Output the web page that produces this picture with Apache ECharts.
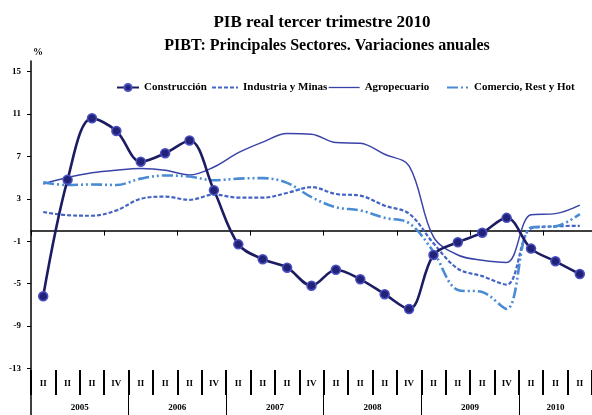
<!DOCTYPE html>
<html><head><meta charset="utf-8">
<script src="https://cdn.jsdelivr.net/npm/echarts@6/dist/echarts.min.js"></script>
<style>html,body{margin:0;padding:0;background:#fff}#c{width:592px;height:415px}</style>
</head><body><div id="c"></div>
<script>
const categories = ['2005-I','2005-II','2005-III','2005-IV','2006-I','2006-II','2006-III','2006-IV','2007-I','2007-II','2007-III','2007-IV','2008-I','2008-II','2008-III','2008-IV','2009-I','2009-II','2009-III','2009-IV','2010-I','2010-II','2010-III'];
const quarterLabels = ['II','II','II','IV','II','II','II','IV','II','II','II','IV','II','II','II','IV','II','II','II','IV','II','II','II'];
const yearLabels = ['2005','2006','2007','2008','2009','2010'];
const yearCenters = [2, 6, 10, 14, 18, 21.5];
const yearBounds = [4, 8, 12, 16, 20];
const yTicks = [-13, -9, -5, -1, 3, 7, 11, 15];
const construccion = [-6.2,4.8,10.6,9.4,6.5,7.3,8.5,3.8,-1.3,-2.7,-3.5,-5.2,-3.7,-4.6,-6.0,-7.4,-2.3,-1.1,-0.2,1.2,-1.7,-2.9,-4.1];
const industria = [1.75,1.45,1.4,1.9,3.0,3.2,2.9,3.4,3.1,3.1,3.55,4.1,3.45,3.3,2.35,1.6,-1.2,-3.6,-4.3,-5.1,0.2,0.4,0.45];
const agropecuario = [4.4,5.0,5.45,5.7,5.85,5.7,5.25,6.0,7.35,8.35,9.15,9.1,8.3,8.25,7.2,6.1,-0.6,-2.3,-2.8,-3.0,1.5,1.6,2.4];
const comercio = [4.55,4.3,4.35,4.3,4.9,5.2,5.1,4.75,4.9,4.95,4.5,3.15,2.2,1.9,1.2,0.7,-2.0,-5.6,-5.8,-7.4,0.3,0.4,1.55];

const FONT = 'Liberation Serif';
const chart = echarts.init(document.getElementById('c'), null, {renderer:'canvas'});
const lgText = {fontFamily: FONT, fontWeight: 'bold', fontSize: 11, color: '#000'};
const noSym = {color: 'rgba(0,0,0,0)', borderWidth: 0};
chart.setOption({
  animation: false,
  title: [
    {text: 'PIB real tercer trimestre 2010', left: 317, top: 9, textAlign: 'center',
     textStyle: {fontFamily: FONT, fontWeight: 'bold', fontSize: 17, color: '#000'}},
    {text: 'PIBT: Principales Sectores. Variaciones anuales', left: 322, top: 33, textAlign: 'center',
     textStyle: {fontFamily: FONT, fontWeight: 'bold', fontSize: 16, color: '#000'}}
  ],
  legend: [
    {data: ['Construcción'], left: 116, top: 82, itemWidth: 22, itemHeight: 9, textStyle: lgText, padding: 0},
    {data: ['Industria y Minas'], left: 211, top: 82, itemWidth: 26, itemHeight: 9, textStyle: lgText, padding: 0},
    {data: ['Agropecuario'], left: 328, top: 82, itemWidth: 31, itemHeight: 9, textStyle: lgText, padding: 0,
     lineStyle: {width: 1.3}},
    {data: ['Comercio, Rest y Hot'], left: 446, top: 82, itemWidth: 22, itemHeight: 9, textStyle: lgText, padding: 0}
  ],
  grid: {left: 31, right: 0, top: 61, bottom: 0},
  xAxis: [
    {type: 'category', data: categories, boundaryGap: true,
     axisLine: {onZero: true, lineStyle: {color: '#000', width: 1.5}},
     axisTick: {show: true, length: 5, lineStyle: {color: '#000', width: 1}},
     axisLabel: {show: false}, splitLine: {show: false}},
    {type: 'category', data: categories, boundaryGap: true, position: 'bottom', offset: -45,
     axisLine: {show: false, onZero: false},
     axisTick: {show: true, length: 25, lineStyle: {color: '#000', width: 2}},
     axisLabel: {show: true, interval: 0, margin: 9, formatter: (v, i) => quarterLabels[i],
       fontFamily: FONT, fontWeight: 'bold', fontSize: 9, color: '#000'},
     splitLine: {show: false}},
    {type: 'value', min: 0, max: 23, position: 'bottom', offset: -45,
     axisLine: {show: false, onZero: false},
     axisTick: {show: true, length: 45, customValues: yearBounds, lineStyle: {color: '#000', width: 1}},
     axisLabel: {show: true, customValues: yearCenters, margin: 33,
       formatter: v => yearLabels[yearCenters.indexOf(v)],
       fontFamily: FONT, fontWeight: 'bold', fontSize: 9, color: '#000'},
     splitLine: {show: false}}
  ],
  yAxis: {type: 'value', min: -17.4, max: 16,
    name: '%', nameLocation: 'end', nameGap: 4,
    nameTextStyle: {fontFamily: FONT, fontWeight: 'bold', fontSize: 10, color: '#000', align: 'left', padding: [0,0,0,2]},
    axisLine: {show: true, lineStyle: {color: '#000', width: 1.5}},
    axisTick: {show: true, length: 4, customValues: yTicks, lineStyle: {color: '#000'}},
    axisLabel: {customValues: yTicks, margin: 10, fontFamily: FONT, fontWeight: 'bold', fontSize: 9, color: '#000'},
    splitLine: {show: false}},
  series: [
    {name: 'Agropecuario', type: 'line', data: agropecuario, smooth: 0.35, showSymbol: false, symbol: 'circle',
     lineStyle: {color: '#3a44a8', width: 1.5}, itemStyle: noSym, z: 2},
    {name: 'Industria y Minas', type: 'line', data: industria, smooth: 0.35, showSymbol: false, symbol: 'circle',
     lineStyle: {color: '#4464c4', width: 2.2, type: [4, 2]}, itemStyle: noSym, z: 3},
    {name: 'Comercio, Rest y Hot', type: 'line', data: comercio, smooth: 0.35, showSymbol: false, symbol: 'circle',
     lineStyle: {color: '#4a8cd4', width: 2.6, type: [11, 3, 2, 3, 2, 3]}, itemStyle: noSym, z: 4},
    {name: 'Construcción', type: 'line', data: construccion, smooth: 0.35, symbol: 'circle', symbolSize: 9,
     lineStyle: {color: '#1c1c62', width: 2.6},
     itemStyle: {color: '#222278', borderColor: '#4a50c0', borderWidth: 1.5}, z: 5}
  ]
});
</script></body></html>
